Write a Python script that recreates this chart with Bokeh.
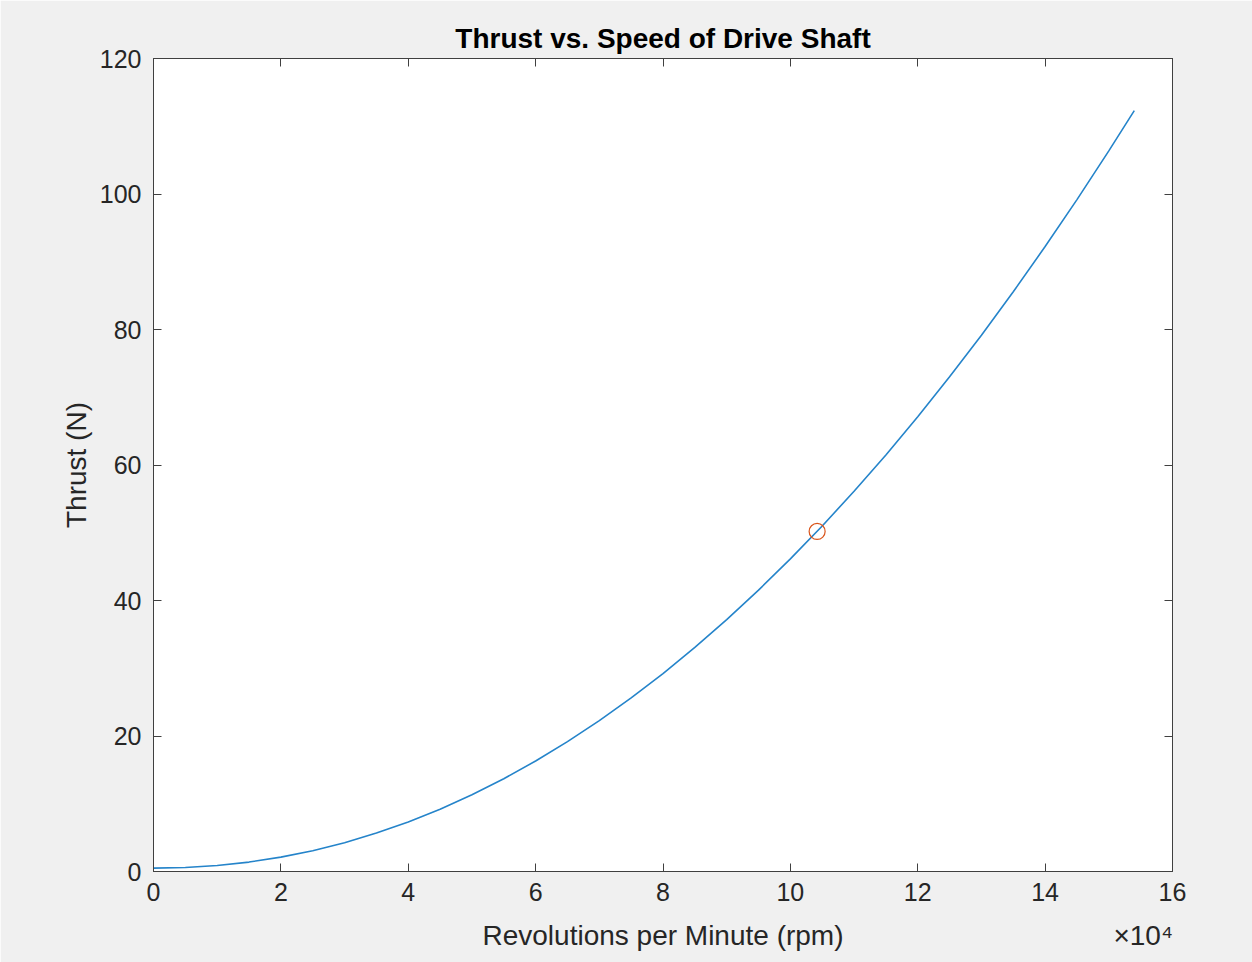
from bokeh.plotting import figure
from bokeh.models import Range1d, FixedTicker, LinearAxis, CustomJSTickFormatter
from bokeh.embed import file_html
from bokeh.resources import INLINE

# Data
rpm = [0, 5000, 10000, 15000, 20000, 25000, 30000, 35000, 40000, 45000,
       50000, 55000, 60000, 65000, 70000, 75000, 80000, 85000, 90000, 95000,
       100000, 105000, 110000, 115000, 120000, 125000, 130000, 135000,
       140000, 145000, 150000, 154000]
thrust = [0.5, 0.59, 0.88, 1.39, 2.12, 3.07, 4.25, 5.67, 7.32, 9.20,
          11.33, 13.70, 16.31, 19.17, 22.27, 25.62, 29.22, 33.07, 37.18, 41.53,
          46.14, 51.00, 56.12, 61.49, 67.13, 73.02, 79.16, 85.57,
          92.24, 99.17, 106.36, 112.3]
op_rpm = [104200]
op_thrust = [50.2]

x_ticks = [0, 20000, 40000, 60000, 80000, 100000, 120000, 140000, 160000]
y_ticks = [0, 20, 40, 60, 80, 100, 120]

title = "Thrust vs. Speed of Drive Shaft"
x_label = "Revolutions per Minute (rpm)"
x_exponent = "\u00d710\u2074"
y_label = "Thrust (N)"

FONT = "Liberation Sans"
TXT = "#262626"
BG = "#f0f0f0"

p = figure(width=1252, height=962, output_backend="svg", toolbar_location=None,
           x_range=Range1d(0, 160000), y_range=Range1d(0, 120),
           min_border_left=153, min_border_right=80, min_border_top=58,
           min_border_bottom=91, background_fill_color="white",
           border_fill_color=BG, title=title)

p.title.align = "center"
p.title.text_font = FONT
p.title.text_font_size = "28px"
p.title.text_font_style = "bold"
p.title.text_color = "black"
p.title.standoff = 10

p.grid.visible = False
p.outline_line_color = "#404040"
p.outline_line_width = 1

xf = CustomJSTickFormatter(code="return (tick/10000).toFixed(0);")
empty = CustomJSTickFormatter(code="return '';")


def style(ax):
    ax.axis_line_color = "#404040"
    ax.major_tick_line_color = "#404040"
    ax.major_tick_in = 8
    ax.major_tick_out = 0
    ax.minor_tick_line_color = None
    ax.major_label_text_font = FONT
    ax.major_label_text_font_size = "25px"
    ax.major_label_text_color = TXT
    ax.axis_label_text_font = FONT
    ax.axis_label_text_font_size = "27px"
    ax.axis_label_text_font_style = "normal"
    ax.axis_label_text_color = TXT


xa = p.xaxis[0]
xa.ticker = FixedTicker(ticks=x_ticks)
xa.formatter = xf
style(xa)
xa.major_label_standoff = 11

# second row below the tick labels: axis title and the x10^4 multiplier
label_pos = [80000.0, 155400.0]
xb = LinearAxis(ticker=FixedTicker(ticks=label_pos),
                major_label_overrides={label_pos[0]: x_label,
                                       label_pos[1]: x_exponent})
style(xb)
xb.axis_line_color = None
xb.major_tick_line_color = None
xb.major_label_text_font_size = "28px"
xb.major_label_standoff = 16
p.add_layout(xb, "below")

ya = p.yaxis[0]
ya.ticker = FixedTicker(ticks=y_ticks)
ya.axis_label = y_label
style(ya)
ya.axis_label_text_font_size = "28px"
ya.major_label_standoff = 12
ya.axis_label_standoff = 5

top = LinearAxis(ticker=FixedTicker(ticks=x_ticks), formatter=empty)
style(top)
top.major_label_standoff = 0
p.add_layout(top, "above")
right = LinearAxis(ticker=FixedTicker(ticks=y_ticks), formatter=empty)
style(right)
right.major_label_standoff = 0
p.add_layout(right, "right")

p.line(rpm, thrust, line_color="#2584ca", line_width=1.6)
p.scatter(op_rpm, op_thrust, marker="circle", size=16, fill_color=None,
          line_color="#D95319", line_width=1.2)

open("out.html", "w").write(file_html(p, INLINE))
